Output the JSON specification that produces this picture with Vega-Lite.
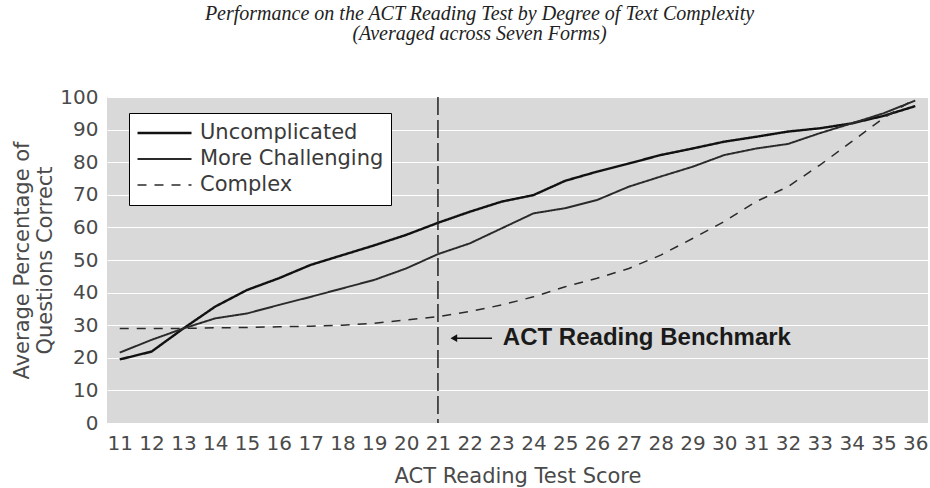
{
  "$schema": "https://vega.github.io/schema/vega-lite/v6.json",
  "width": 821,
  "height": 326,
  "autosize": {"type": "none"},
  "padding": {"left": 107, "top": 97, "right": 2, "bottom": 65},
  "background": "white",
  "title": {
    "text": ["Performance on the ACT Reading Test by Degree of Text Complexity", "(Averaged across Seven Forms)"],
    "font": "Liberation Serif",
    "fontStyle": "italic",
    "fontWeight": "normal",
    "fontSize": 20,
    "lineHeight": 20,
    "color": "#222",
    "anchor": "middle",
    "frame": "group",
    "dx": -38,
    "offset": 43
  },
  "config": {
    "view": {"fill": "#d9d9d9", "stroke": null},
    "axis": {
      "labelFont": "DejaVu Sans",
      "labelFontSize": 20,
      "labelColor": "#4a4a4a",
      "titleFont": "DejaVu Sans",
      "titleFontSize": 21,
      "titleFontWeight": "normal",
      "titleColor": "#4a4a4a",
      "domain": false,
      "ticks": false,
      "labelOverlap": false,
      "labelFlush": false
    },
    "axisX": {
      "grid": false,
      "labelAngle": 0,
      "labelPadding": 10,
      "titlePadding": 12
    },
    "axisY": {
      "grid": true,
      "gridColor": "white",
      "gridWidth": 1.2,
      "labelPadding": 9,
      "titlePadding": 4,
      "titleLineHeight": 23
    },
    "legend": {
      "orient": "none",
      "legendX": 22,
      "legendY": 16,
      "fillColor": "white",
      "strokeColor": "black",
      "padding": 7,
      "symbolType": "stroke",
      "symbolSize": 2916,
      "clipHeight": 26,
      "labelFont": "DejaVu Sans",
      "labelFontSize": 21,
      "labelColor": "#3a3a3a",
      "labelOffset": 7,
      "rowPadding": 0,
      "labelLimit": 400
    }
  },
  "layer": [
    {
      "data": {
        "values": [
          {"score": 11, "series": "Uncomplicated", "value": 19.5},
          {"score": 12, "series": "Uncomplicated", "value": 21.9},
          {"score": 13, "series": "Uncomplicated", "value": 29},
          {"score": 14, "series": "Uncomplicated", "value": 35.7},
          {"score": 15, "series": "Uncomplicated", "value": 40.8},
          {"score": 16, "series": "Uncomplicated", "value": 44.4},
          {"score": 17, "series": "Uncomplicated", "value": 48.5},
          {"score": 18, "series": "Uncomplicated", "value": 51.5},
          {"score": 19, "series": "Uncomplicated", "value": 54.5},
          {"score": 20, "series": "Uncomplicated", "value": 57.7},
          {"score": 21, "series": "Uncomplicated", "value": 61.4},
          {"score": 22, "series": "Uncomplicated", "value": 64.8},
          {"score": 23, "series": "Uncomplicated", "value": 67.9},
          {"score": 24, "series": "Uncomplicated", "value": 69.9},
          {"score": 25, "series": "Uncomplicated", "value": 74.3},
          {"score": 26, "series": "Uncomplicated", "value": 77.1},
          {"score": 27, "series": "Uncomplicated", "value": 79.6},
          {"score": 28, "series": "Uncomplicated", "value": 82.2},
          {"score": 29, "series": "Uncomplicated", "value": 84.2},
          {"score": 30, "series": "Uncomplicated", "value": 86.3},
          {"score": 31, "series": "Uncomplicated", "value": 87.8},
          {"score": 32, "series": "Uncomplicated", "value": 89.4},
          {"score": 33, "series": "Uncomplicated", "value": 90.4},
          {"score": 34, "series": "Uncomplicated", "value": 91.9},
          {"score": 35, "series": "Uncomplicated", "value": 94.2},
          {"score": 36, "series": "Uncomplicated", "value": 97.2},
          {"score": 11, "series": "More Challenging", "value": 21.6},
          {"score": 12, "series": "More Challenging", "value": 25.5},
          {"score": 13, "series": "More Challenging", "value": 29},
          {"score": 14, "series": "More Challenging", "value": 32.1},
          {"score": 15, "series": "More Challenging", "value": 33.6},
          {"score": 16, "series": "More Challenging", "value": 36.2},
          {"score": 17, "series": "More Challenging", "value": 38.7},
          {"score": 18, "series": "More Challenging", "value": 41.3},
          {"score": 19, "series": "More Challenging", "value": 43.9},
          {"score": 20, "series": "More Challenging", "value": 47.4},
          {"score": 21, "series": "More Challenging", "value": 51.8},
          {"score": 22, "series": "More Challenging", "value": 55.1},
          {"score": 23, "series": "More Challenging", "value": 59.7},
          {"score": 24, "series": "More Challenging", "value": 64.3},
          {"score": 25, "series": "More Challenging", "value": 65.9},
          {"score": 26, "series": "More Challenging", "value": 68.4},
          {"score": 27, "series": "More Challenging", "value": 72.5},
          {"score": 28, "series": "More Challenging", "value": 75.6},
          {"score": 29, "series": "More Challenging", "value": 78.6},
          {"score": 30, "series": "More Challenging", "value": 82.2},
          {"score": 31, "series": "More Challenging", "value": 84.2},
          {"score": 32, "series": "More Challenging", "value": 85.6},
          {"score": 33, "series": "More Challenging", "value": 88.9},
          {"score": 34, "series": "More Challenging", "value": 91.9},
          {"score": 35, "series": "More Challenging", "value": 95},
          {"score": 36, "series": "More Challenging", "value": 98.9},
          {"score": 11, "series": "Complex", "value": 29},
          {"score": 12, "series": "Complex", "value": 29},
          {"score": 13, "series": "Complex", "value": 29},
          {"score": 14, "series": "Complex", "value": 29.2},
          {"score": 15, "series": "Complex", "value": 29.3},
          {"score": 16, "series": "Complex", "value": 29.5},
          {"score": 17, "series": "Complex", "value": 29.7},
          {"score": 18, "series": "Complex", "value": 30},
          {"score": 19, "series": "Complex", "value": 30.6},
          {"score": 20, "series": "Complex", "value": 31.6},
          {"score": 21, "series": "Complex", "value": 32.6},
          {"score": 22, "series": "Complex", "value": 34.2},
          {"score": 23, "series": "Complex", "value": 36.2},
          {"score": 24, "series": "Complex", "value": 38.7},
          {"score": 25, "series": "Complex", "value": 41.8},
          {"score": 26, "series": "Complex", "value": 44.4},
          {"score": 27, "series": "Complex", "value": 47.4},
          {"score": 28, "series": "Complex", "value": 51.5},
          {"score": 29, "series": "Complex", "value": 56.6},
          {"score": 30, "series": "Complex", "value": 61.8},
          {"score": 31, "series": "Complex", "value": 67.9},
          {"score": 32, "series": "Complex", "value": 72.5},
          {"score": 33, "series": "Complex", "value": 79.1},
          {"score": 34, "series": "Complex", "value": 86.3},
          {"score": 35, "series": "Complex", "value": 93.5},
          {"score": 36, "series": "Complex", "value": 99.5}
        ]
      },
      "mark": {"type": "line", "interpolate": "linear", "strokeJoin": "round"},
      "encoding": {
        "x": {
          "field": "score",
          "type": "quantitative",
          "scale": {"domain": [10.6, 36.4], "nice": false, "zero": false},
          "axis": {"title": "ACT Reading Test Score", "values": [11,12,13,14,15,16,17,18,19,20,21,22,23,24,25,26,27,28,29,30,31,32,33,34,35,36], "format": "d"}
        },
        "y": {
          "field": "value",
          "type": "quantitative",
          "scale": {"domain": [0, 100], "nice": false},
          "axis": {"title": ["Average Percentage of", "Questions Correct"], "values": [0,10,20,30,40,50,60,70,80,90,100], "format": "d"}
        },
        "color": {
          "field": "series",
          "type": "nominal",
          "scale": {"domain": ["Uncomplicated", "More Challenging", "Complex"], "range": ["#111111", "#2a2a2a", "#2a2a2a"]},
          "legend": {"title": null}
        },
        "strokeDash": {
          "field": "series",
          "type": "nominal",
          "scale": {"domain": ["Uncomplicated", "More Challenging", "Complex"], "range": [[1, 0], [1, 0], [9, 8]]},
          "legend": {"title": null}
        },
        "strokeWidth": {
          "field": "series",
          "type": "ordinal",
          "scale": {"domain": ["Uncomplicated", "More Challenging", "Complex"], "range": [2.4, 1.5, 1.5]},
          "legend": {"title": null}
        }
      }
    },
    {
      "data": {"values": [{"score": 21}]},
      "mark": {"type": "rule", "color": "#222", "strokeWidth": 1.5, "strokeDash": [18, 5]},
      "encoding": {
        "x": {"field": "score", "type": "quantitative",
          "axis": {"title": "ACT Reading Test Score", "values": [11,12,13,14,15,16,17,18,19,20,21,22,23,24,25,26,27,28,29,30,31,32,33,34,35,36], "format": "d"}}
      }
    },
    {
      "data": {"values": [{"score": 21.5, "score2": 22.7, "value": 26}]},
      "mark": {"type": "rule", "color": "#111", "strokeWidth": 1.5},
      "encoding": {
        "x": {"field": "score", "type": "quantitative",
          "axis": {"title": "ACT Reading Test Score", "values": [11,12,13,14,15,16,17,18,19,20,21,22,23,24,25,26,27,28,29,30,31,32,33,34,35,36], "format": "d"}},
        "x2": {"field": "score2"},
        "y": {"field": "value", "type": "quantitative",
          "axis": {"title": ["Average Percentage of", "Questions Correct"], "values": [0,10,20,30,40,50,60,70,80,90,100], "format": "d"}}
      }
    },
    {
      "data": {"values": [{"score": 21.5, "value": 26}]},
      "mark": {"type": "point", "shape": "triangle-left", "filled": true, "color": "#111", "size": 60, "opacity": 1},
      "encoding": {
        "x": {"field": "score", "type": "quantitative",
          "axis": {"title": "ACT Reading Test Score", "values": [11,12,13,14,15,16,17,18,19,20,21,22,23,24,25,26,27,28,29,30,31,32,33,34,35,36], "format": "d"}},
        "y": {"field": "value", "type": "quantitative",
          "axis": {"title": ["Average Percentage of", "Questions Correct"], "values": [0,10,20,30,40,50,60,70,80,90,100], "format": "d"}}
      }
    },
    {
      "data": {"values": [{"score": 23.04, "value": 26, "label": "ACT Reading Benchmark"}]},
      "mark": {"type": "text", "align": "left", "baseline": "middle", "font": "Liberation Sans", "fontWeight": "bold", "fontSize": 24, "color": "#1a1a1a"},
      "encoding": {
        "x": {"field": "score", "type": "quantitative",
          "axis": {"title": "ACT Reading Test Score", "values": [11,12,13,14,15,16,17,18,19,20,21,22,23,24,25,26,27,28,29,30,31,32,33,34,35,36], "format": "d"}},
        "y": {"field": "value", "type": "quantitative",
          "axis": {"title": ["Average Percentage of", "Questions Correct"], "values": [0,10,20,30,40,50,60,70,80,90,100], "format": "d"}},
        "text": {"field": "label"}
      }
    }
  ]
}
